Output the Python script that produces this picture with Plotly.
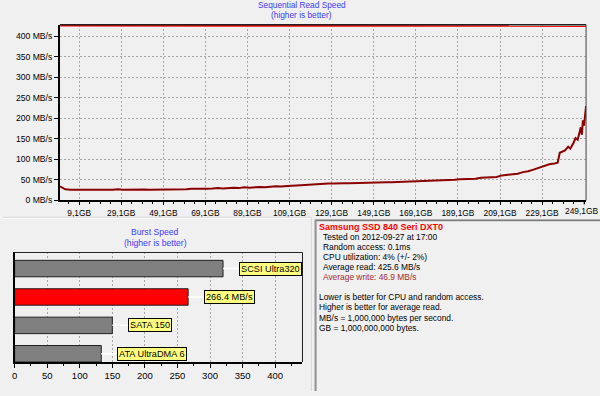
import plotly.graph_objects as go

# ---------------- data ----------------
gb_positions = [0, 2.5, 5, 7.5, 10, 12.5, 15, 17.5, 20, 22.5, 25, 27.5, 30, 32.5, 35, 37.5, 40, 42.5,
                45, 47.5, 50, 52.5, 55, 57.5, 60, 62.5, 65, 67.5, 70, 72.5, 75, 77.5, 80, 82.5, 85,
                87.5, 90, 92.5, 95, 97.5, 100, 102.5, 105, 107.5, 110, 112.5, 115, 117.5, 120, 122.5,
                125, 127.5, 130, 132.5, 135, 137.5, 140, 142.5, 145, 147.5, 150, 152.5, 155, 157.5,
                160, 162.5, 165, 167.5, 170, 172.5, 175, 177.5, 180, 182.5, 185, 187.5, 190, 192.5,
                195, 197.5, 200, 202.5, 205, 207.5, 210, 212.5, 215, 217.5, 220, 222.5, 225, 227.5,
                230, 232.5, 235, 236.5, 237.5, 240, 241.5, 242.5, 244, 245, 246, 247, 247.5, 248,
                248.5, 249, 249.5, 250]
write_speed = [34, 27, 26, 26.5, 25.5, 26, 26, 25.5, 26.5, 26, 26, 27.5, 26, 26.5, 26, 26, 26.5, 26,
               26, 26.5, 26, 26.5, 27, 27, 27.5, 28.5, 28, 29, 28.5, 29, 30, 29, 30.5, 31, 30,
               32, 31, 32.5, 33, 32, 33.5, 34.5, 34, 35.5, 36, 36.5, 37.5, 37, 39, 39.5,
               40.5, 41, 41.5, 41, 42, 42, 42.5, 42.5, 43, 43, 43.5, 43.5, 44, 44,
               44.5, 45, 45.5, 45, 46.5, 47, 47.5, 48, 48.5, 49, 50, 50.5, 51.5, 52,
               53.5, 53, 55.5, 56, 58, 57, 61, 62, 64, 65, 69, 71, 75, 79,
               84, 88, 90, 92, 116, 122, 131, 126, 140, 152, 148, 165, 178, 160,
               195, 182, 210, 230]
read_speed = [425.5, 425.5, 424.5, 425.5, 425.5, 424.5, 424.5, 425.5, 425.5, 424.5, 425.5, 425.5,
              424.5, 424.5, 425.5, 425.5, 425.5, 424.5, 425.5, 425.5, 424.5, 425.5, 425.5, 425.5,
              425.5, 425.5, 425.5, 425.5, 425.5, 425.5, 424.5, 425.5, 425.5, 425.5, 424.5, 425.5,
              425.5, 424.5, 425.5, 425.5, 425.5, 425.5, 424.5, 425.5, 425.5, 425.5, 425.5, 425.5,
              424.5, 425.5, 425.5, 425.5, 425.5, 425.5, 425.5, 425.5, 425.5, 425.5, 424.5, 425.5,
              425.5, 425.5, 425.5, 425.5, 424.5, 424.5, 425.5, 425.5, 425.5, 425.5, 425.5, 424.5,
              425.5, 425.5, 424.5, 425.5, 425.5, 425.5, 425.5, 425.5, 425.5, 425.5, 424.5, 425.5,
              425.5, 425.5, 425.5, 425.5, 425.5, 424.5, 425.5, 425.5, 425.5, 425.5, 424.5, 425.5,
              425.5, 425.5, 424.5, 425.5, 425.5, 425.5, 425.5, 424.5, 425.5, 425.5, 425.5, 425.5,
              425.5, 424.5]
x_tick_values = [9.1, 29.1, 49.1, 69.1, 89.1, 109.1, 129.1, 149.1, 169.1, 189.1, 209.1, 229.1]
x_tick_labels = ["9,1GB", "29,1GB", "49,1GB", "69,1GB", "89,1GB", "109,1GB", "129,1GB", "149,1GB",
                 "169,1GB", "189,1GB", "209,1GB", "229,1GB"]
last_tick_value = 249.1
last_tick_label = "249,1GB"
y_tick_values = [0, 50, 100, 150, 200, 250, 300, 350, 400]
y_tick_labels = ["0 MB/s", "50 MB/s", "100 MB/s", "150 MB/s", "200 MB/s", "250 MB/s", "300 MB/s",
                 "350 MB/s", "400 MB/s"]

burst_labels = ["ATA UltraDMA 6", "SATA 150", "266.4 MB/s", "SCSI Ultra320"]
burst_values = [133, 150, 266.4, 320]
burst_colors = ["#808080", "#808080", "#FF0000", "#808080"]
burst_ticks = [0, 50, 100, 150, 200, 250, 300, 350, 400]

info_title = "Samsung SSD 840 Seri DXT0"
info_lines = ["Tested on 2012-09-27 at 17:00", "Random access: 0.1ms",
              "CPU utilization: 4% (+/- 2%)", "Average read: 425.6 MB/s"]
info_write = "Average write: 46.9 MB/s"
notes = ["Lower is better for CPU and random access.", "Higher is better for average read.",
         "MB/s = 1,000,000 bytes per second.", "GB = 1,000,000,000 bytes."]

# ---------------- figure ----------------
W, H = 600, 396
BG = "#F0F0F0"
FONT = "Liberation Sans, Arial, sans-serif"
TITLE_BLUE = "#3C3CFF"

def px(x):
    return x / W

def py(y):
    return 1 - y / H

fig = go.Figure()

fig.add_trace(go.Scatter(x=gb_positions, y=read_speed, mode="lines",
                         line=dict(color="#FF0000", width=1.6), xaxis="x", yaxis="y",
                         hoverinfo="skip", cliponaxis=False))
fig.add_trace(go.Scatter(x=gb_positions, y=write_speed, mode="lines",
                         line=dict(color="#8B0000", width=2), xaxis="x", yaxis="y",
                         hoverinfo="skip"))

fig.add_trace(go.Bar(x=burst_values, y=list(range(len(burst_values))), orientation="h",
                     marker=dict(color=burst_colors, line=dict(color="#202020", width=1)),
                     width=0.58, xaxis="x2", yaxis="y2", hoverinfo="skip"))

grid = dict(showgrid=True, gridcolor="#A8A8A8", griddash="2px,2px", gridwidth=1)

fig.update_layout(
    width=W, height=H, margin=dict(l=0, r=0, t=0, b=0),
    paper_bgcolor=BG, plot_bgcolor=BG, showlegend=False,
    font=dict(family=FONT, size=9, color="#000000"),
    xaxis=dict(domain=[px(57.3), px(586)], range=[0, 250], tickvals=x_tick_values,
               ticktext=x_tick_labels, ticks="outside", ticklen=3, tickcolor="#000",
               showline=True, linecolor="#000", linewidth=2, zeroline=False,
               tickfont=dict(size=8.4), anchor="y",
               minor=dict(ticks="outside", ticklen=2, tick0=-0.9, dtick=5, tickcolor="#000"),
               fixedrange=True, **grid),
    yaxis=dict(domain=[py(203), py(25)], range=[0, 428], tickvals=y_tick_values,
               ticktext=y_tick_labels, ticks="outside", ticklen=4, tickcolor="#000",
               showline=True, linecolor="#000", linewidth=2, zeroline=False,
               tickfont=dict(size=8.6), anchor="x", fixedrange=True, **grid),
    xaxis2=dict(domain=[px(11.7), px(301)], range=[0, 442], tickvals=burst_ticks,
                ticks="outside", ticklen=4, tickcolor="#000", showline=True, linecolor="#000",
                linewidth=2, zeroline=False, tickfont=dict(size=9.5), anchor="y2",
                minor=dict(ticks="outside", ticklen=2, dtick=25, tickcolor="#000", showgrid=False),
                fixedrange=True, **grid),
    yaxis2=dict(domain=[py(366.7), py(255.7)], range=[-0.292, 3.567], showticklabels=False,
                showgrid=False, zeroline=False, showline=True, linecolor="#000", linewidth=2,
                ticks="", anchor="x2", fixedrange=True),
)

shapes = []
# top/right frame lines of line chart
shapes.append(dict(type="line", xref="x domain", yref="y domain", x0=0, x1=1, y0=1, y1=1,
                   line=dict(color="#202020", width=1.5)))
shapes.append(dict(type="line", xref="x domain", yref="y domain", x0=1, x1=1, y0=0, y1=1,
                   line=dict(color="#404040", width=1)))
# top/right frame of bar chart
shapes.append(dict(type="line", xref="x2 domain", yref="y2 domain", x0=0, x1=1, y0=1, y1=1,
                   line=dict(color="#202020", width=1)))
shapes.append(dict(type="line", xref="x2 domain", yref="y2 domain", x0=1, x1=1, y0=0, y1=1,
                   line=dict(color="#202020", width=1)))
# panel separators
shapes.append(dict(type="line", xref="paper", yref="paper", x0=0, x1=px(310), y0=py(221),
                   y1=py(221), line=dict(color="#FFFFFF", width=1)))
shapes.append(dict(type="line", xref="paper", yref="paper", x0=0, x1=px(310), y0=py(220),
                   y1=py(220), line=dict(color="#D8D8D8", width=1)))
shapes.append(dict(type="line", xref="paper", yref="paper", x0=px(310), x1=px(310), y0=0,
                   y1=py(220), line=dict(color="#D8D8D8", width=1)))
shapes.append(dict(type="line", xref="paper", yref="paper", x0=px(313.5), x1=1, y0=py(222.5),
                   y1=py(222.5), line=dict(color="#A0A0A0", width=1)))
shapes.append(dict(type="line", xref="paper", yref="paper", x0=px(313.5), x1=px(313.5), y0=0,
                   y1=py(222.5), line=dict(color="#A0A0A0", width=1)))
shapes.append(dict(type="line", xref="paper", yref="paper", x0=px(314.5), x1=1, y0=py(223.5),
                   y1=py(223.5), line=dict(color="#696969", width=1)))
shapes.append(dict(type="line", xref="paper", yref="paper", x0=px(314.5), x1=px(314.5), y0=0,
                   y1=py(223.5), line=dict(color="#696969", width=1)))
# tick mark for the last (edge) tick
shapes.append(dict(type="line", xref="x", yref="y domain", x0=last_tick_value, x1=last_tick_value,
                   ysizemode="pixel", yanchor=0, y0=0, y1=-4, line=dict(color="#000", width=1)))

annotations = []
# last x tick label, kept inside the window edge
annotations.append(dict(x=last_tick_value, y=0, xref="x", yref="y domain", text=last_tick_label,
                        showarrow=False, xanchor="center", yanchor="top", xshift=-3, yshift=-4,
                        font=dict(size=8.4, color="#000")))
# connectors and labels for bars
for i, (lab, val) in enumerate(zip(burst_labels, burst_values)):
    shapes.append(dict(type="line", xref="x2", yref="y2", xsizemode="pixel", xanchor=val,
                       x0=0, x1=16, y0=i, y1=i, line=dict(color="#FFFFFF", width=1.5),
                       layer="above"))
    annotations.append(dict(x=val, y=i, xref="x2", yref="y2", text=lab, showarrow=False,
                            xanchor="left", yanchor="middle", xshift=16,
                            bgcolor="#FFFF80", bordercolor="#000000", borderwidth=1, borderpad=1,
                            font=dict(size=9.2, color="#000")))

# titles
annotations.append(dict(x=px(300), y=py(5), xref="paper", yref="paper",
                        text="Sequential Read Speed", showarrow=False, xanchor="center",
                        yanchor="middle", font=dict(size=8.3, color=TITLE_BLUE)))
annotations.append(dict(x=px(300), y=py(15.5), xref="paper", yref="paper",
                        text="(higher is better)", showarrow=False, xanchor="center",
                        yanchor="middle", font=dict(size=8.3, color=TITLE_BLUE)))
annotations.append(dict(x=px(153), y=py(235), xref="paper", yref="paper",
                        text="Burst Speed", showarrow=False, xanchor="center",
                        yanchor="middle", font=dict(size=8.6, color=TITLE_BLUE)))
annotations.append(dict(x=px(153), y=py(246), xref="paper", yref="paper",
                        text="(higher is better)", showarrow=False, xanchor="center",
                        yanchor="middle", font=dict(size=8.6, color=TITLE_BLUE)))

# info panel
annotations.append(dict(x=px(315.5), y=py(230), xref="paper", yref="paper", text="<b>" + info_title + "</b>",
                        showarrow=False, xanchor="left", yanchor="middle",
                        font=dict(size=9, color="#FF0000")))
for k, t in enumerate(info_lines):
    annotations.append(dict(x=px(320), y=py(240.2 + 10.2 * k), xref="paper", yref="paper",
                            text=t, showarrow=False, xanchor="left", yanchor="middle",
                            font=dict(size=8.4, color="#000")))
annotations.append(dict(x=px(320), y=py(240.2 + 10.2 * 4), xref="paper", yref="paper",
                        text=info_write, showarrow=False, xanchor="left", yanchor="middle",
                        font=dict(size=8.4, color="#A52A2A")))
for k, t in enumerate(notes):
    annotations.append(dict(x=px(315.5), y=py(301 + 10.3 * k), xref="paper", yref="paper",
                            text=t, showarrow=False, xanchor="left", yanchor="middle",
                            font=dict(size=8.4, color="#000")))

fig.update_layout(shapes=shapes, annotations=annotations)
fig.write_html("out.html", config={"displayModeBar": False},
               post_script=("document.body.style.margin='0';"
                            "document.body.style.background='#F0F0F0';"))
